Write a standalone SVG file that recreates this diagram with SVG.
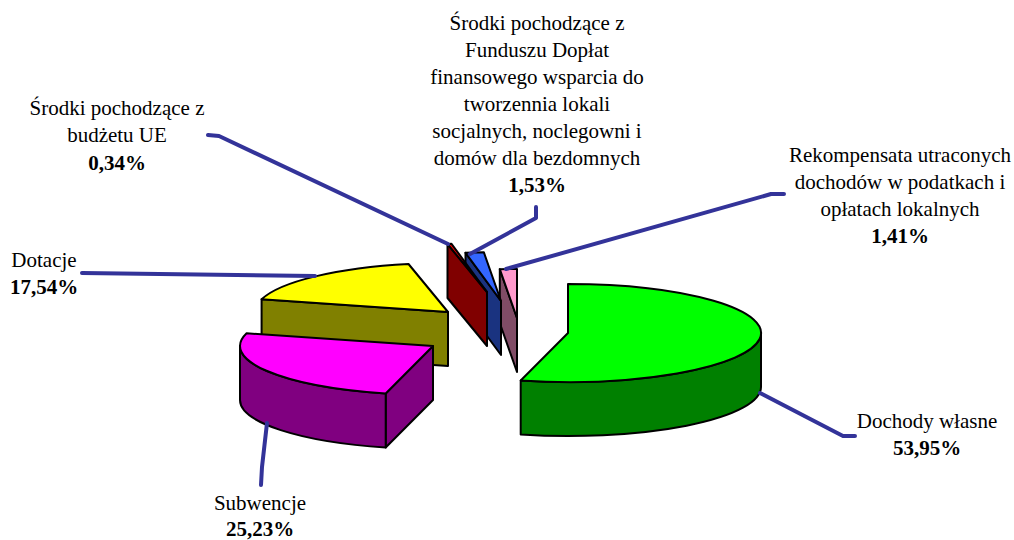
<svg xmlns="http://www.w3.org/2000/svg" width="1014" height="540" viewBox="0 0 1014 540">
<style>
.f{stroke:#000;stroke-width:2;stroke-linejoin:round}
.ld{fill:none;stroke:#333399;stroke-width:4;stroke-linecap:round;stroke-linejoin:round}
</style>
<rect width="1014" height="540" fill="#fff"/>
<g font-family="Liberation Serif, Times New Roman, serif" font-size="21" text-anchor="middle" fill="#000">
<g id="slice-rekompensata">
<path class="f" fill="#804C66" d="M517,318 L499.8,269.2 L499.8,323.2 L517,372 Z"/>
<path class="f" fill="#FF99CC" d="M517,318 L499.8,269.2 A193,49 0 0 1 517,269 Z"/>
<text x="900" y="162">Rekompensata utraconych</text>
<text x="900" y="189">dochodów w podatkach i</text>
<text x="900" y="216">opłatach lokalnych</text>
<text x="900" y="243" font-weight="bold">1,41%</text>
</g>
<g id="slice-fundusz">
<path class="f" fill="#1A3380" d="M501,301 L465.5,252.8 L465.5,306.8 L501,355 Z"/>
<path class="f" fill="#3366FF" d="M501,301 L465.5,252.8 A193,49 0 0 1 483.8,252.2 Z"/>
<text x="537" y="30">Środki pochodzące z</text>
<text x="537" y="57">Funduszu Dopłat</text>
<text x="537" y="84">finansowego wsparcia do</text>
<text x="537" y="111">tworzennia lokali</text>
<text x="537" y="138">socjalnych, noclegowni i</text>
<text x="537" y="165">domów dla bezdomnych</text>
<text x="537" y="192" font-weight="bold">1,53%</text>
</g>
<g id="slice-ue">
<path class="f" fill="#800000" d="M487,292 L447.5,244 L447.5,298 L487,346 Z"/>
<path class="f" fill="#FF0000" d="M487,292 L447.5,244 A193,49 0 0 1 451.5,243.8 Z"/>
<text x="117" y="115">Środki pochodzące z</text>
<text x="117" y="142">budżetu UE</text>
<text x="117" y="170" font-weight="bold">0,34%</text>
</g>
<g id="slice-dotacje">
<path class="f" fill="#808000" d="M448,312 L261.6,299.3 L261.6,353.3 L448,366 Z"/>
<path class="f" fill="#FFFF00" d="M448,312 L261.6,299.3 A193,49 0 0 1 408.5,264 Z"/>
<text x="44" y="267">Dotacje</text>
<text x="44" y="294" font-weight="bold">17,54%</text>
</g>
<g id="slice-subwencje">
<path class="f" fill="#800080" d="M433,346 L385.7,393.5 L385.7,447.5 L433,400 Z"/>
<path class="f" fill="#800080" d="M385.7,393.5 A193,49 0 0 1 240,346 L240,400 A193,49 0 0 0 385.7,447.5 Z"/>
<path class="f" fill="#FF00FF" d="M433,346 L385.7,393.5 A193,49 0 0 1 246.6,333.3 Z"/>
<text x="260" y="510">Subwencje</text>
<text x="260" y="536" font-weight="bold">25,23%</text>
</g>
<g id="slice-dochody">
<path class="f" fill="#008000" d="M761,333 A193,49 0 0 1 520.7,380.5 L520.7,434.5 A193,49 0 0 0 761,387 Z"/>
<path class="f" fill="#00FF00" d="M568,333 L568,284 A193,49 0 1 1 520.7,380.5 Z"/>
<text x="927" y="428">Dochody własne</text>
<text x="927" y="455" font-weight="bold">53,95%</text>
</g>
</g>
<g id="connectors">
<path class="ld" d="M208,135 L219,136 L448,244"/>
<path class="ld" d="M536,207 L536,218 L470,254"/>
<path class="ld" d="M784,194 L771,194 L506,269"/>
<path class="ld" d="M82,273 L315,276"/>
<path class="ld" d="M267,423 L262,467 L261,485"/>
<path class="ld" d="M760,393 L843,436 L855,436"/>
</g>
</svg>
